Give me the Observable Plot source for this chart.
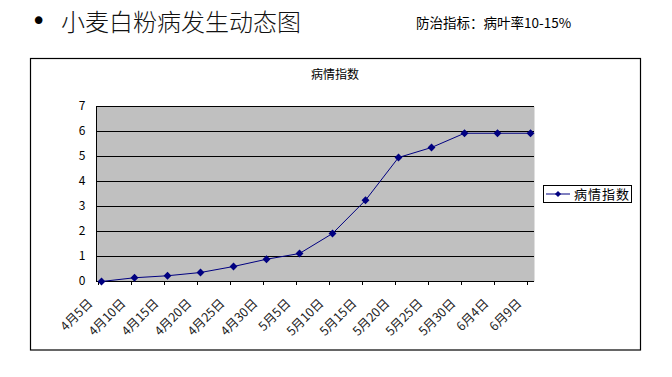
<!DOCTYPE html>
<html><head><meta charset="utf-8">
<script src="https://cdn.jsdelivr.net/npm/d3@7"></script>
<script src="https://cdn.jsdelivr.net/npm/@observablehq/plot@0.6"></script>
<style>
html,body{margin:0;padding:0;background:#fff;}
#chart{position:relative;width:672px;height:377px;overflow:hidden;}
</style></head>
<body><div id="chart"></div>
<script>
const dates = ["4月5日","4月10日","4月15日","4月20日","4月25日","4月30日","5月5日","5月10日","5月15日","5月20日","5月25日","5月30日","6月4日","6月9日"];
const index = [0, 0.15, 0.23, 0.36, 0.6, 0.89, 1.12, 1.92, 3.25, 4.96, 5.36, 5.93, 5.93, 5.93];
const yTicks = [0,1,2,3,4,5,6,7];
const gridLines = [1,2,3,4,5,6,7];
const seriesName = "病情指数";
const pageTitle = "小麦白粉病发生动态图";
const noteText = "防治指标：病叶率10-15%";

const data = dates.map((d,i)=>({date:d, value:index[i]}));
const font = "'Noto Sans CJK SC', 'Noto Sans', sans-serif";

const plot = Plot.plot({
  width: 672, height: 377,
  marginLeft: 96, marginRight: 138, marginTop: 106, marginBottom: 96,
  style: {fontFamily: font, background: "white", overflow: "visible"},
  x: {type: "point", domain: dates, padding: 0.09, label: null},
  y: {domain: [0,7], label: null},
  marks: [
    Plot.frame({fill: "#c0c0c0", stroke: null}),
    Plot.ruleY(gridLines, {stroke: "black", strokeWidth: 1}),
    Plot.ruleY([0], {stroke: "black", strokeWidth: 1}),
    Plot.frame({anchor: "left", stroke: "black"}),
    Plot.axisY({ticks: yTicks, tickFormat: "d", tickSize: 0, tickPadding: 11, fontSize: 12, fill: "#000", label: null}),
    Plot.axisX({tickSize: 4, text: null, stroke: "black", dx: -3, label: null}),
    Plot.axisX({tickSize: 0, tickRotate: -45, fontSize: 12.5, fill: "#222", dx: -11, dy: 8, label: null}),
    Plot.line(data, {x: "date", y: "value", stroke: "#000080", strokeWidth: 1}),
    Plot.dot(data, {x: "date", y: "value", symbol: "diamond2", fill: "#000080", stroke: "#000080", r: 2.6})
  ]
});
document.getElementById("chart").appendChild(plot);

const svg = d3.select(plot);
// outer chart box
svg.append("rect").attr("x",30.5).attr("y",58.5).attr("width",610).attr("height",291.5)
  .attr("fill","none").attr("stroke","black").attr("stroke-width",1.2);
// chart title
svg.append("text").attr("x",335).attr("y",79).attr("text-anchor","middle")
  .attr("font-size",12).attr("fill","#000").attr("font-family",font).text(seriesName);
// page title
svg.append("text").attr("x",31).attr("y",30).attr("text-anchor","start").attr("font-size",26).attr("fill","#000").attr("font-family","'DejaVu Sans', sans-serif").text("•");
svg.append("text").attr("x",61).attr("y",31).attr("text-anchor","start").attr("font-size",24).attr("font-weight",300)
  .attr("fill","#111").attr("font-family",font).text(pageTitle);
svg.append("text").attr("x",416).attr("y",28).attr("text-anchor","start").attr("font-size",13.5)
  .attr("fill","#000").attr("font-family",font).text(noteText);
// legend
const lg = svg.append("g");
lg.append("rect").attr("x",543.5).attr("y",185.5).attr("width",88).attr("height",17)
  .attr("fill","white").attr("stroke","black").attr("stroke-width",1);
lg.append("line").attr("x1",546).attr("x2",570).attr("y1",194).attr("y2",194)
  .attr("stroke","#000080").attr("stroke-width",1);
lg.append("path").attr("d",d3.symbol(d3.symbolDiamond2, 24)()).attr("transform","translate(558,194)")
  .attr("fill","#000080");
lg.append("text").attr("x",574).attr("y",199).attr("text-anchor","start").attr("font-size",13).attr("fill","#000")
  .attr("font-family",font).attr("letter-spacing",1).text(seriesName);
</script></body></html>
